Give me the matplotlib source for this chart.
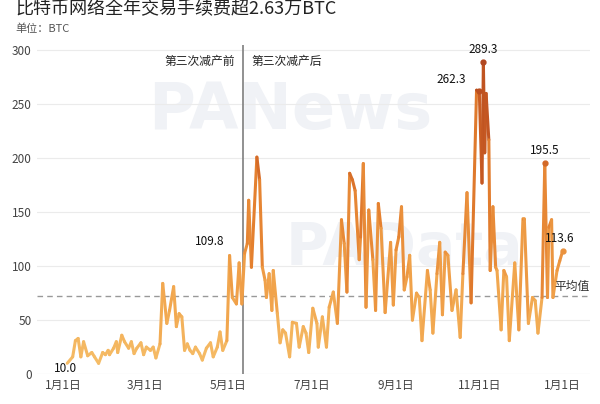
import matplotlib.pyplot as plt
import numpy as np
from matplotlib.collections import LineCollection
from matplotlib.colors import LinearSegmentedColormap, Normalize

plt.rcParams['font.family'] = ['Noto Sans CJK SC', 'DejaVu Sans']

# day offset from 2020-01-01, daily fee in BTC
days = [3, 7, 9, 11, 13, 15, 18, 21, 23, 26, 29, 31, 33, 34, 37, 39, 40, 43, 45, 48,
        50, 52, 54, 57, 59, 61, 64, 66, 68, 71, 73, 76, 78, 81, 83, 85, 87, 89, 91, 93,
        95, 97, 100, 102, 105, 108, 110, 113, 115, 117, 120, 122, 124, 127, 129, 131, 133, 135, 136, 138,
        142, 144, 146, 148, 149, 151, 153, 154, 157, 159, 161, 163, 166, 168, 171, 173, 176, 178, 180, 183,
        186, 187, 190, 193, 195, 198, 201, 204, 206, 208, 210, 212, 214, 217, 218, 220, 222, 224, 227, 229,
        231, 233, 236, 240, 242, 244, 246, 248, 250, 252, 254, 256, 259, 261, 263, 267, 269, 271, 274, 276,
        278, 280, 282, 285, 288, 291, 293, 296, 299, 303, 305, 307, 308, 309, 310, 312, 313, 315, 317, 318,
        321, 323, 325, 327, 331, 334, 337, 338, 341, 344, 346, 348, 351, 353, 355, 356, 358, 359, 362, 364,
        366]
fees = [10.0, 16, 31, 33, 16, 30, 17, 20, 16, 10, 20, 18, 22, 18, 24, 30, 20, 36, 30, 24,
        30, 19, 24, 29, 18, 25, 22, 25, 15, 28, 84, 47, 59, 81, 44, 56, 53, 22, 28, 22,
        19, 25, 19, 13, 24, 29, 16, 25, 39, 22, 31, 109.8, 71, 65, 103, 65, 112, 121, 161, 99,
        201, 180, 99, 87, 71, 93, 59, 96, 56, 29, 41, 38, 16, 48, 47, 25, 44, 38, 20, 61,
        47, 25, 53, 25, 62, 76, 47, 143, 121, 76, 186, 180, 170, 106, 127, 195, 62, 152, 106, 59,
        158, 135, 57, 122, 64, 115, 127, 155, 78, 90, 110, 50, 75, 71, 31, 96, 78, 38, 93, 122,
        55, 113, 110, 59, 78, 34, 93, 168, 66, 263, 262.3, 177, 289.3, 205, 260, 217, 96, 155, 99, 96,
        41, 96, 90, 31, 103, 41, 144, 144, 47, 71, 68, 38, 71, 195.5, 71, 136, 143, 71, 96, 105,
        113.6]
average = 72
halving_day = 132

tick_days = [0, 60, 121, 182, 244, 305, 366]
tick_labels = ['1月1日', '3月1日', '5月1日', '7月1日', '9月1日', '11月1日', '1月1日']

labels = {10.0: (-1, -4), 109.8: (-14, 10), 262.3: (-20, 8), 289.3: (0, 9), 195.5: (0, 9), 113.6: (-2, 9)}

fig = plt.figure(figsize=(6, 4.04), dpi=100)
ax = fig.add_axes([0.062, 0.074, 0.921, 0.815])

x = np.array(days, dtype=float)
y = np.array(fees, dtype=float)

# faint watermark
ax.text(0.20, 0.80, 'PANews', transform=ax.transAxes, fontsize=46, fontweight='bold',
        color='#f0f2f6', family='DejaVu Sans', va='center', zorder=0)
ax.text(0.45, 0.38, 'PAData', transform=ax.transAxes, fontsize=42, fontweight='bold',
        color='#f0f2f6', family='DejaVu Sans', va='center', zorder=0)

cmap = LinearSegmentedColormap.from_list('fee', ['#f6c16c', '#f1a44c', '#e4802f', '#c85a22', '#ad4420'])
norm = Normalize(0, 300)
pts = np.column_stack([x, y]).reshape(-1, 1, 2)
segs = np.concatenate([pts[:-1], pts[1:]], axis=1)
lc = LineCollection(segs, cmap=cmap, norm=norm, linewidth=2.2, capstyle='round', joinstyle='round', zorder=3)
lc.set_array((y[:-1] + y[1:]) / 2)
ax.add_collection(lc)

for v, (dx, dy) in labels.items():
    i = fees.index(v)
    if v not in (10.0, 109.8):
        ax.plot(days[i], v, 'o', ms=3.5, color=cmap(norm(v)), zorder=4)
    ax.annotate(f'{v:.1f}', (days[i], v), xytext=(dx, dy), textcoords='offset points',
                ha='center', va='center', fontsize=8.5, color='#111', zorder=5)

ax.axhline(average, color='#999999', lw=1, ls=(0, (4, 3)), zorder=2)
ax.text(360, average + 3, '平均值', fontsize=8.5, color='#333', ha='left', va='bottom')

ax.axvline(halving_day, color='#888888', lw=1.3, zorder=2)
ax.text(halving_day - 6, 290, '第三次减产前', fontsize=8.5, color='#222', ha='right', va='center')
ax.text(halving_day + 6, 290, '第三次减产后', fontsize=8.5, color='#222', ha='left', va='center')

ax.set_xlim(-19, 386)
ax.set_ylim(0, 305)
ax.set_yticks(range(0, 301, 50))
ax.set_xticks(tick_days)
ax.set_xticklabels(tick_labels)
ax.grid(axis='y', color='#ebebeb', lw=0.8, zorder=1)
ax.tick_params(length=0, labelsize=8.5, labelcolor='#444')
ax.tick_params(axis='y', pad=4)
for s in ax.spines.values():
    s.set_visible(False)
ax.axhline(0, color='#e6e6e6', lw=0.8, zorder=1)

fig.text(0.025, 0.978, '比特币网络全年交易手续费超2.63万BTC', fontsize=13, color='#222', va='center')
fig.text(0.025, 0.928, '单位：BTC', fontsize=8, color='#555', va='center')

plt.savefig('out.png')
